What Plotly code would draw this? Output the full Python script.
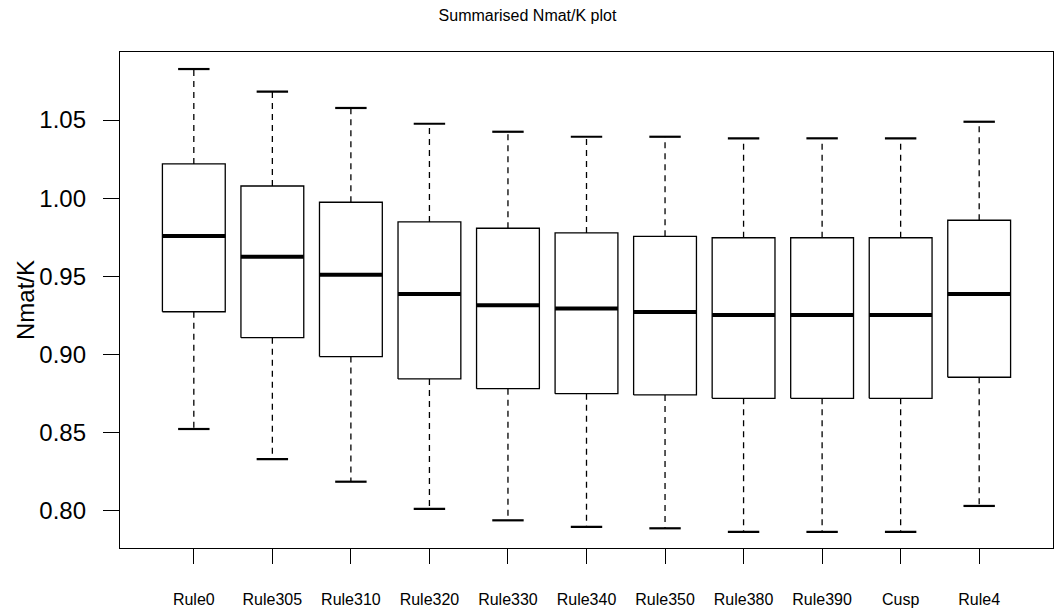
import plotly.graph_objects as go

# Summary statistics per rule (whisker ends, quartiles, median)
categories = ["Rule0", "Rule305", "Rule310", "Rule320", "Rule330", "Rule340",
              "Rule350", "Rule380", "Rule390", "Cusp", "Rule4"]
upper_whisker = [1.0826, 1.0681, 1.0577, 1.0476, 1.0425, 1.0393,
                 1.0393, 1.0383, 1.0383, 1.0383, 1.0489]
q3 = [1.0219, 1.0078, 0.9974, 0.9848, 0.9808, 0.9778,
      0.9756, 0.9747, 0.9747, 0.9747, 0.9859]
median = [0.9758, 0.9626, 0.9511, 0.9388, 0.9315, 0.9294,
          0.9272, 0.9253, 0.9253, 0.9253, 0.9388]
q1 = [0.9274, 0.9108, 0.8987, 0.8844, 0.8782, 0.8750,
      0.8742, 0.8720, 0.8720, 0.8720, 0.8855]
lower_whisker = [0.8524, 0.8331, 0.8187, 0.8013, 0.7940, 0.7898,
                 0.7889, 0.7866, 0.7866, 0.7866, 0.8032]
y_ticks = [0.80, 0.85, 0.90, 0.95, 1.00, 1.05]

FONT = "Liberation Sans, Arial, sans-serif"
BOX_HALF = 0.4
CAP_HALF = 0.2

fig = go.Figure()

positions = list(range(1, len(categories) + 1))

for i, pos in enumerate(positions):
    # dashed whiskers
    fig.add_trace(go.Scatter(
        x=[pos, pos, None, pos, pos],
        y=[q3[i], upper_whisker[i], None, q1[i], lower_whisker[i]],
        mode="lines", line=dict(color="black", width=1.3, dash="6px,5px"),
        hoverinfo="skip", showlegend=False))
    # whisker caps
    fig.add_trace(go.Scatter(
        x=[pos - CAP_HALF, pos + CAP_HALF, None, pos - CAP_HALF, pos + CAP_HALF],
        y=[upper_whisker[i], upper_whisker[i], None, lower_whisker[i], lower_whisker[i]],
        mode="lines", line=dict(color="black", width=2.2),
        hoverinfo="skip", showlegend=False))
    # box
    fig.add_trace(go.Scatter(
        x=[pos - BOX_HALF, pos + BOX_HALF, pos + BOX_HALF, pos - BOX_HALF, pos - BOX_HALF],
        y=[q1[i], q1[i], q3[i], q3[i], q1[i]],
        mode="lines", fill="toself", fillcolor="white",
        line=dict(color="black", width=1.3),
        hoverinfo="skip", showlegend=False))
    # median
    fig.add_trace(go.Scatter(
        x=[pos - BOX_HALF, pos + BOX_HALF],
        y=[median[i], median[i]],
        mode="lines", line=dict(color="black", width=4),
        hoverinfo="skip", showlegend=False))

fig.update_layout(
    width=1055, height=612,
    margin=dict(l=120, r=2, t=52, b=64),
    paper_bgcolor="white", plot_bgcolor="white",
    font=dict(family=FONT, color="black"),
    title=dict(text="Summarised Nmat/K plot", x=0.5, xref="container",
               xanchor="center", y=1 - 15 / 612, yanchor="middle",
               font=dict(size=16, family=FONT, color="black")),
    showlegend=False,
)

fig.update_xaxes(
    range=[0.06, 11.94], tickmode="array", tickvals=positions, ticktext=categories,
    ticks="outside", ticklen=15, tickwidth=1.3, tickcolor="black",
    showline=True, linecolor="black", linewidth=1.3, mirror=True,
    showgrid=False, zeroline=False, ticklabelstandoff=22,
    tickfont=dict(size=16, family=FONT, color="black"),
)
fig.update_yaxes(
    range=[0.7763, 1.0935], tickmode="array", tickvals=y_ticks,
    ticktext=[f"{v:.2f}" for v in y_ticks],
    ticks="outside", ticklen=16, tickwidth=1.3, tickcolor="black",
    showline=True, linecolor="black", linewidth=1.3, mirror=True,
    showgrid=False, zeroline=False, ticklabelstandoff=12,
    tickfont=dict(size=24, family=FONT, color="black"),
)

fig.add_annotation(
    text="Nmat/K", textangle=-90, showarrow=False,
    xref="paper", yref="paper", x=(25 - 120) / 933, y=0.5,
    xanchor="center", yanchor="middle",
    font=dict(size=24, family=FONT, color="black"),
)

fig.write_html("out.html")
